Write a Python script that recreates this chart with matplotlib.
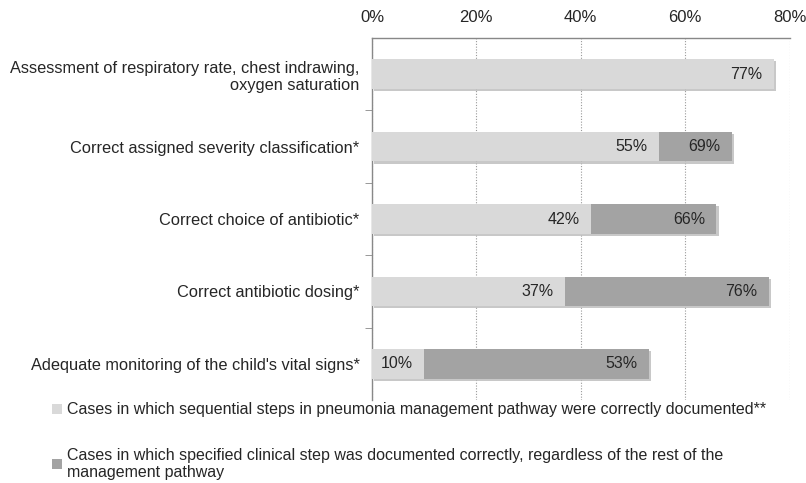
import matplotlib.pyplot as plt
import matplotlib.patheffects as pe
from matplotlib.patches import Patch
from matplotlib.ticker import FixedLocator, PercentFormatter

categories = [
    "Assessment of respiratory rate, chest indrawing,\noxygen saturation",
    "Correct assigned severity classification*",
    "Correct choice of antibiotic*",
    "Correct antibiotic dosing*",
    "Adequate monitoring of the child's vital signs*",
]
sequential = [77, 55, 42, 37, 10]
regardless = [None, 69, 66, 76, 53]
legend_labels = [
    "Cases in which sequential steps in pneumonia management pathway were correctly documented**",
    "Cases in which specified clinical step was documented correctly, regardless of the rest of the\nmanagement pathway",
]

light = "#d9d9d9"
dark = "#a3a3a3"
text_col = "#262626"

plt.rcParams['font.family'] = ['Liberation Sans', 'DejaVu Sans']

fig = plt.figure(figsize=(8.06, 4.83), dpi=100)
W, H = 806, 483
ax = fig.add_axes([372 / W, 1 - 400 / H, (789.5 - 372) / W, (400 - 38) / H])

shadow = [pe.SimplePatchShadow(offset=(1.5, -1.5), shadow_rgbFace="#bbbbbb", alpha=0.8), pe.Normal()]
ys = list(range(len(categories)))
bh = 0.41
for y, s, r in zip(ys, sequential, regardless):
    total = r if r is not None else s
    ax.barh(y, total, height=bh, color=light, zorder=3, path_effects=shadow)
    if r is not None:
        ax.barh(y, r - s, left=s, height=bh, color=dark, zorder=3)
        ax.text(r - 2.2, y, f"{r}%", ha="right", va="center", fontsize=11.5, color=text_col, zorder=4)
    ax.text(s - 2.2, y, f"{s}%", ha="right", va="center", fontsize=11.5, color=text_col, zorder=4)

ax.set_xlim(0, 80)
ax.set_ylim(len(categories) - 0.5, -0.5)
ax.xaxis.set_ticks_position("top")
ax.set_xticks([0, 20, 40, 60, 80])
ax.xaxis.set_major_formatter(PercentFormatter(decimals=0))
ax.tick_params(axis="x", length=0, labelsize=12, pad=9, colors=text_col)
ax.grid(axis="x", linestyle=(0, (1, 1.5)), color="#9a9a9a", linewidth=0.8, zorder=0)

ax.set_yticks(ys)
ax.set_yticklabels(categories, fontsize=11.8, color=text_col)
ax.tick_params(axis="y", which="major", length=0, pad=9)
ax.yaxis.set_minor_locator(FixedLocator([0.5, 1.5, 2.5, 3.5]))
ax.tick_params(axis="y", which="minor", length=5, color="#888888")

for sp in ["right", "bottom"]:
    ax.spines[sp].set_visible(False)
for sp in ["left", "top"]:
    ax.spines[sp].set_color("#888888")
    ax.spines[sp].set_linewidth(1)

handles = [Patch(facecolor=light, edgecolor="none"), Patch(facecolor=dark, edgecolor="none")]
fig.legend(handles, legend_labels, loc="upper left", bbox_to_anchor=(38 / W, 1 - 388 / H),
           frameon=False, handlelength=0.6, handleheight=0.6, handletextpad=0.3,
           labelspacing=1.9, prop={"size": 11.5}, labelcolor=text_col)

fig.savefig("out.png", dpi=100)
